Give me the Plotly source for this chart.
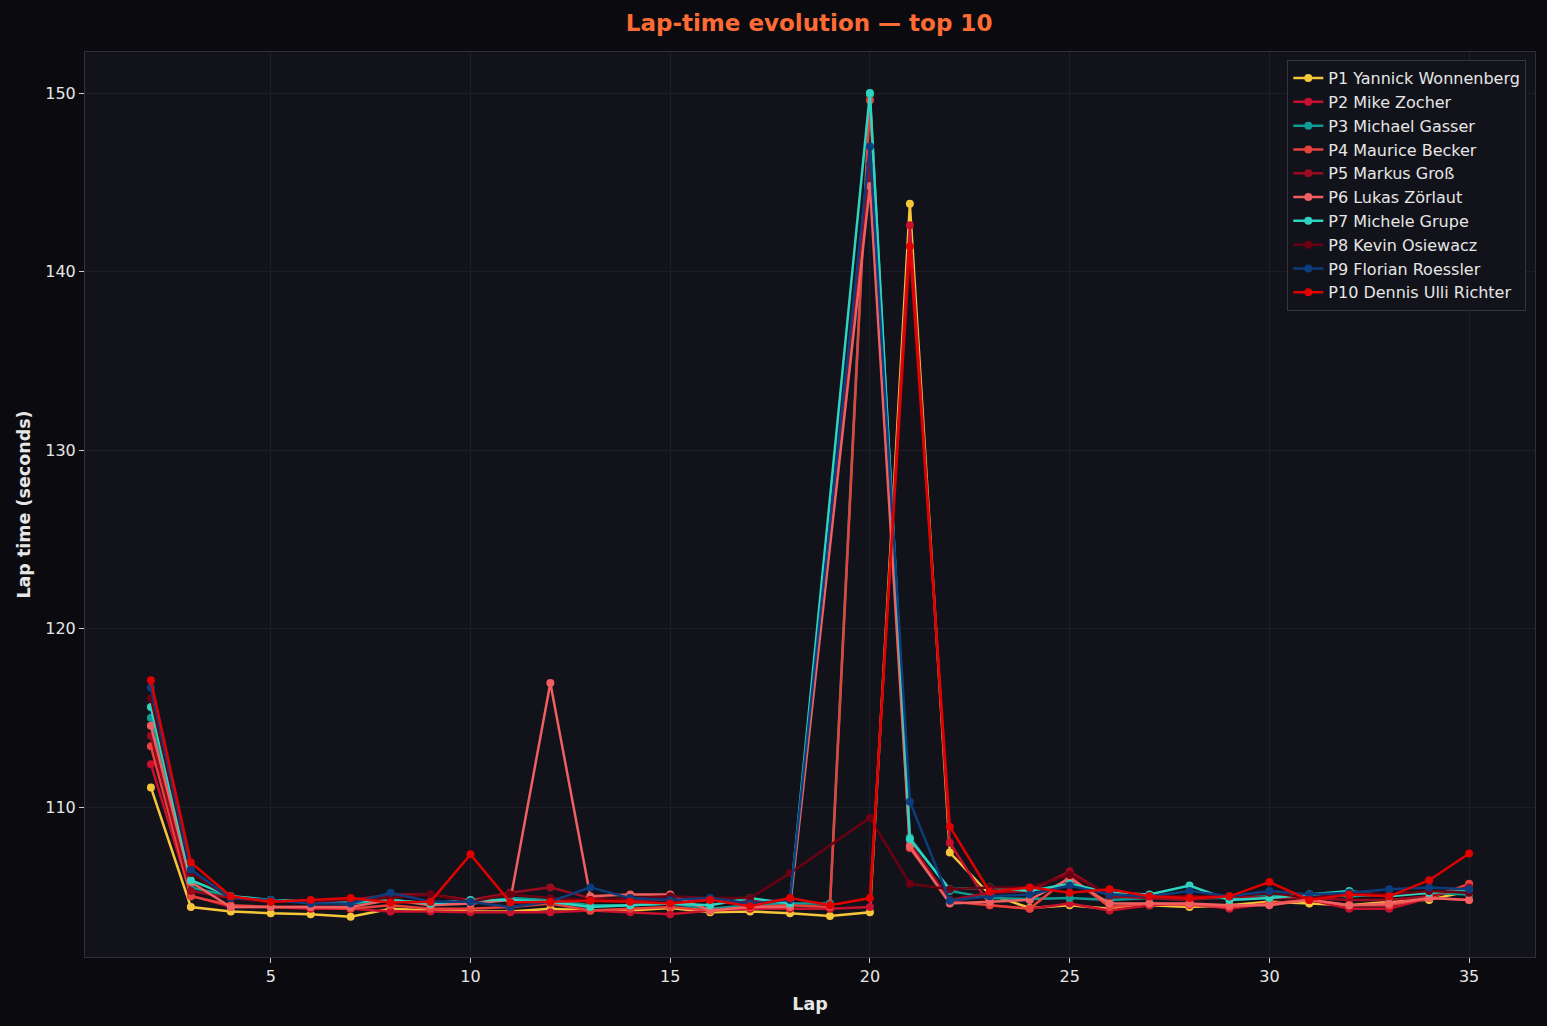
import plotly.graph_objects as go

# lap numbers 2..35 ; None = no lap time recorded (line joins across)
laps = list(range(2, 36))

drivers = ["P1 Yannick Wonnenberg", "P2 Mike Zocher", "P3 Michael Gasser",
           "P4 Maurice Becker", "P5 Markus Groß", "P6 Lukas Zörlaut",
           "P7 Michele Grupe", "P8 Kevin Osiewacz", "P9 Florian Roessler",
           "P10 Dennis Ulli Richter"]

colors = ["#f5c53a", "#c8102e", "#0f9a92", "#e8413c", "#9b0b20",
          "#f06060", "#2dd4bf", "#6b0012", "#0b3d7d", "#e00000"]

p1 = [111.1, 104.4, 104.15, 104.05, 104.0, 103.85, 104.3, 104.2, 104.15, 104.15,
      104.3, 104.2, 104.2, 104.35, 104.1, 104.15, 104.05, 103.9, 104.1, 143.8,
      107.45, 105.1, 104.35, 104.5, 104.3, 104.5, 104.4, 104.5, 104.7, 104.6,
      104.5, 104.7, 104.8, 105.3]
p2 = [112.4, 105.05, 104.4, 104.4, 104.3, 104.3, 104.15, 104.15, 104.1, 104.1,
      104.1, 104.2, 104.1, 104.0, 104.2, 104.3, 104.3, 104.3, 104.4, 142.6,
      108.0, 104.5, 104.3, 104.6, 104.2, 104.5, 104.6, 104.3, 104.6, 104.8,
      104.3, 104.3, 104.9, 104.8]
p3 = [115.0, 105.5, 105.0, 104.8, 104.7, 104.6, 104.8, 104.6, 104.6, 104.9,
      104.8, 104.5, 104.5, 104.6, 104.3, 104.5, 104.6, 104.6, 149.9, 108.3,
      105.3, 104.9, 104.85, 104.9, 104.8, 104.9, 104.9, 104.9, 105.0, 105.1,
      105.0, 105.1, 105.2, 105.1]
p4 = [113.4, 105.0, 104.5, 104.4, 104.4, 104.3, 104.5, 104.3, 104.3, 104.4,
      104.6, 104.2, 104.3, 104.4, 104.2, 104.4, 104.5, 104.4, 149.6, 107.7,
      104.7, 104.5, 104.3, 106.1, 104.4, 104.6, 104.5, 104.4, 104.6, 104.8,
      104.5, 104.5, 104.9, 105.7]
p5 = [114.0, 105.3, 104.9, 104.7, 104.7, 104.8, 105.1, 105.1, 104.8, 105.2,
      105.5, 104.9, 104.8, 104.8, 104.8, 104.7, 104.8, None, 146.0, 108.0,
      104.8, 105.2, 105.3, 106.4, 105.0, 104.9, 104.8, 105.0, 104.9, 104.9,
      104.8, 104.8, 105.0, 105.5]
p6 = [114.55, 105.8, 104.4, 104.4, 104.4, 104.4, 104.8, 104.5, 104.6, 104.8,
      116.95, 105.0, 105.1, 105.1, 104.2, 104.4, 104.4, None, 144.8, 107.8,
      104.6, 104.7, 104.8, 106.0, 104.6, 104.6, 104.6, 104.5, 104.5, 104.8,
      104.5, 104.6, 104.9, 104.8]
p7 = [115.6, 105.9, 105.0, 104.8, 104.7, 104.7, 104.8, 104.6, 104.8, 104.8,
      104.7, 104.4, 104.5, 104.6, 104.5, 104.9, 104.6, None, 150.0, 108.2,
      105.4, 105.5, 105.3, 105.7, 105.2, 105.1, 105.6, 104.8, 104.9, 105.1,
      105.3, 105.0, 105.2, 105.3]
p8 = [116.1, 106.3, 104.9, 104.7, 104.7, 104.8, 104.9, 105.1, 104.7, 105.1,
      104.9, 104.8, 104.9, 105.0, 104.9, 104.9, 106.3, None, 109.4, 105.7,
      105.4, 105.5, 105.5, 106.2, 105.1, 105.0, 105.0, 105.0, 105.2, 104.9,
      105.2, 105.1, 105.3, 105.2]
p9 = [116.7, 106.5, 104.9, 104.8, 104.6, 104.6, 105.2, 104.7, 104.7, 104.4,
      104.7, 105.5, 104.9, 104.8, 104.9, 104.6, 104.8, None, 147.0, 110.3,
      104.75, 105.0, 105.1, 105.6, 105.1, 105.0, 105.3, 105.0, 105.3, 105.1,
      105.2, 105.4, 105.5, 105.4]
p10 = [117.1, 106.9, 105.0, 104.7, 104.8, 104.9, 104.65, 104.7, 107.35, 104.65,
       104.7, 104.75, 104.7, 104.6, 104.8, 104.45, 104.9, 104.5, 104.9, 141.4,
       108.9, 105.25, 105.5, 105.2, 105.4, 105.0, 104.9, 105.0, 105.8, 104.8,
       105.1, 105.0, 105.9, 107.4]

series = [p1, p2, p3, p4, p5, p6, p7, p8, p9, p10]

txt = "#e6e6e6"
fig = go.Figure()
for i, (name, ys) in enumerate(zip(drivers, series)):
    fig.add_trace(go.Scatter(x=laps, y=ys, name=name, mode="lines+markers",
                             connectgaps=True,
                             line=dict(color=colors[i], width=2.5),
                             marker=dict(color=colors[i], size=8)))

fig.update_layout(
    width=1547, height=1026,
    paper_bgcolor="#0b0b0f", plot_bgcolor="#12131a",
    font=dict(family="DejaVu Sans", size=16, color=txt),
    margin=dict(l=85, r=12, t=52, b=69),
    title=dict(text="<b>Lap-time evolution — top 10</b>", x=0.523, xanchor="center",
               y=0.978, yanchor="middle",
               font=dict(size=23, color="#ff6b35")),
    xaxis=dict(range=[0.35, 36.65], tickvals=[5, 10, 15, 20, 25, 30, 35],
               showgrid=True, gridcolor="#1d1e26", zeroline=False,
               ticks="outside", ticklen=5, tickcolor="#cfcfcf",
               showline=True, linecolor="#2e2f38", mirror=True,
               title=dict(text="<b>Lap</b>", font=dict(size=17.5), standoff=12)),
    yaxis=dict(range=[101.6, 152.3], tickvals=[110, 120, 130, 140, 150],
               showgrid=True, gridcolor="#1d1e26", zeroline=False,
               ticks="outside", ticklen=5, tickcolor="#cfcfcf",
               showline=True, linecolor="#2e2f38", mirror=True,
               title=dict(text="<b>Lap time (seconds)</b>", font=dict(size=17.5), standoff=10)),
    legend=dict(x=0.994, y=0.991, xanchor="right", yanchor="top",
                bgcolor="#12131a", bordercolor="#34353e", borderwidth=1,
                font=dict(size=16, color=txt)),
    showlegend=True,
)

fig.write_html("out.html", config={"displayModeBar": False},
               post_script="document.body.style.margin='0';")
